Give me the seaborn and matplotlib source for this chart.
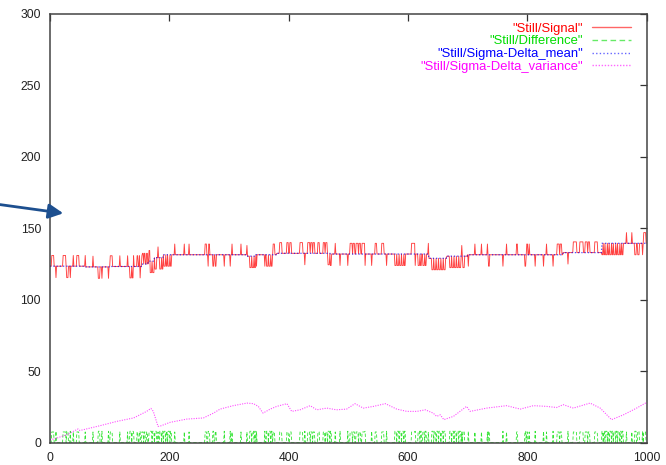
import numpy as np
import pandas as pd
import matplotlib
matplotlib.use("Agg")
import matplotlib.pyplot as plt
from matplotlib.lines import Line2D
import seaborn as sns

n_samples = 1000

# Sigma-delta mean: piecewise-constant levels (start sample, level)
mean_start = [0, 60, 100, 155, 165, 175, 190, 330, 345, 380, 470, 635, 665, 700, 860, 925]
mean_level = [123.5, 123.0, 123.3, 125.0, 127.0, 129.5, 131.5, 130.5, 131.5, 132.5,
              132.0, 129.0, 130.5, 131.5, 133.0, 139.5]

# Signal excursions above the mean (start sample, width in samples)
up_start = [3, 22, 39, 45, 59, 72, 101, 117, 130, 140, 146, 150, 154, 158, 162, 166,
            181, 209, 225, 233, 260, 266, 305, 320, 330, 374, 385, 397, 402, 419, 432,
            437, 441, 449, 458, 462, 478, 503, 508, 513, 518, 523, 545, 556, 606, 634,
            690, 712, 723, 733, 765, 782, 799, 803, 832, 850, 855, 877, 888, 897, 902,
            913, 966, 975, 995]
up_width = [4, 5, 1, 4, 1, 1, 4, 1, 1, 1, 2, 2, 3, 2, 2, 2,
            1, 1, 1, 1, 3, 2, 1, 1, 1, 3, 4, 3, 3, 5, 4,
            3, 3, 3, 3, 3, 1, 4, 3, 4, 3, 5, 3, 4, 6, 1,
            1, 1, 1, 1, 1, 2, 2, 1, 1, 4, 3, 6, 6, 4, 3,
            5, 1, 1, 4]
up_offset = 7.5

# Signal excursions below the mean (start sample, width in samples)
down_start = [10, 28, 34, 81, 87, 98, 134, 138, 151, 168, 172, 176, 184, 188, 191, 195,
              198, 202, 265, 273, 277, 292, 302, 335, 339, 343, 346, 360, 363, 367, 371,
              427, 466, 470, 486, 499, 528, 539, 564, 578, 582, 586, 590, 594, 612, 617,
              621, 625, 629, 640, 644, 648, 652, 656, 660, 670, 674, 678, 682, 686, 692,
              701, 735, 759, 796, 813, 827, 843, 868, 925, 928, 931, 935, 938, 942, 945,
              949, 952, 956, 959, 980, 985, 993]
down_width = [1, 3, 1, 3, 1, 1, 3, 2, 1, 3, 3, 3, 3, 2, 3, 2,
              3, 2, 1, 2, 2, 1, 1, 3, 3, 2, 1, 1, 3, 3, 2,
              1, 3, 2, 1, 1, 1, 1, 1, 3, 3, 3, 3, 2, 1, 3,
              2, 3, 2, 3, 3, 3, 3, 3, 3, 3, 3, 3, 3, 3, 3,
              1, 2, 1, 2, 1, 1, 1, 1, 2, 2, 3, 2, 3, 2, 3,
              2, 3, 2, 2, 3, 3, 1]
down_offset = -8.0

# Sigma-delta variance samples
var_x = [0, 10, 28, 47, 50, 84, 112, 140, 162, 169, 173, 181, 184, 201, 229, 257, 274,
         285, 307, 330, 341, 349, 357, 369, 380, 397, 405, 419, 436, 447, 464, 480, 497,
         511, 525, 542, 562, 581, 598, 615, 629, 642, 648, 654, 660, 676, 698, 704, 732,
         765, 788, 810, 832, 849, 860, 877, 905, 922, 941, 961, 983, 999]
var_y = [2.0, 3.0, 5.6, 9.6, 8.5, 11.9, 14.9, 17.3, 21.9, 24.0, 22.0, 11.4, 11.5, 14.2,
         16.5, 17.3, 20.7, 23.5, 25.9, 27.7, 27.3, 25.4, 20.7, 23.5, 25.4, 27.3, 21.9,
         23.0, 25.9, 23.0, 24.2, 23.0, 23.5, 27.3, 24.2, 25.4, 27.3, 23.5, 21.9, 21.9,
         23.0, 20.7, 18.4, 19.5, 16.1, 18.4, 25.4, 21.9, 24.2, 25.9, 23.5, 25.9, 25.4,
         24.6, 26.6, 24.2, 27.7, 24.2, 16.1, 19.5, 24.2, 28.0]

x_ticks = [0, 200, 400, 600, 800, 1000]
y_ticks = [0, 50, 100, 150, 200, 250, 300]

labels = ['"Still/Signal"', '"Still/Difference"',
          '"Still/Sigma-Delta_mean"', '"Still/Sigma-Delta_variance"']
colors = ["#ff0000", "#00dd00", "#0000ff", "#ff00ff"]
styles = ["-", (0, (4, 2.5)), (0, (1, 1.6)), (0, (1, 1.2))]

# ---- build the series ----
t = np.arange(n_samples)
mean = np.repeat(mean_level, np.diff(mean_start + [n_samples]))
signal = mean.copy()
for s, w in zip(up_start, up_width):
    signal[s:s + w] = mean[s:s + w] + up_offset
for s, w in zip(down_start, down_width):
    signal[s:s + w] = mean[s:s + w] + down_offset
difference = np.abs(signal - mean)

df = pd.DataFrame({"t": t, "signal": signal, "difference": difference, "mean": mean})
df_var = pd.DataFrame({"t": var_x, "variance": var_y})

# ---- style ----
sns.set_style("white")
plt.rcParams["font.family"] = ["Liberation Sans", "DejaVu Sans"]

fig = plt.figure(figsize=(6.66, 4.65), dpi=100)
ax = fig.add_axes([0.0751, 0.048, 0.896, 0.922])

sns.lineplot(data=df, x="t", y="signal", ax=ax, color=colors[0], lw=0.65, alpha=0.75,
             linestyle=styles[0], estimator=None, errorbar=None, legend=False)
sns.lineplot(data=df, x="t", y="difference", ax=ax, color=colors[1], lw=0.6, alpha=0.8,
             linestyle=styles[1], estimator=None, errorbar=None, legend=False)
sns.lineplot(data=df, x="t", y="mean", ax=ax, color=colors[2], lw=0.9, alpha=0.7,
             linestyle=styles[2], estimator=None, errorbar=None, legend=False)
sns.lineplot(data=df_var, x="t", y="variance", ax=ax, color=colors[3], lw=0.8, alpha=0.7,
             linestyle=styles[3], estimator=None, errorbar=None, legend=False)

ax.set_xlim(0, 1000)
ax.set_ylim(0, 300)
ax.set_xticks(x_ticks)
ax.set_yticks(y_ticks)
ax.set_xlabel("")
ax.set_ylabel("")

for side in ["left", "right", "top", "bottom"]:
    ax.spines[side].set_visible(True)
    ax.spines[side].set_color("#444444")
    ax.spines[side].set_linewidth(1.1)
ax.tick_params(direction="in", length=5, width=0.9, top=True, right=True,
               color="#333333", labelcolor="#222222", labelsize=8.7, pad=6.5)

handles = [Line2D([], [], color=c, linestyle=s, lw=1.0, alpha=0.6)
           for c, s in zip(colors, styles)]
leg = ax.legend(handles, labels, loc="upper right", bbox_to_anchor=(0.9737, 0.980),
                frameon=False, markerfirst=False, handlelength=3.0, handletextpad=0.7,
                labelspacing=0.05, borderaxespad=0.0, borderpad=0.0, fontsize=9.4)
for txt, c in zip(leg.get_texts(), colors):
    txt.set_color(c)

# pointer arrow in the left margin
ax.annotate("", xy=(63.3 / 666, 1 - 213.3 / 465), xycoords="figure fraction",
            xytext=(0.0, 1 - 204.6 / 465), textcoords="figure fraction",
            arrowprops=dict(arrowstyle="-|>", color="#1d4f8f", lw=2.0,
                            mutation_scale=22, shrinkA=0, shrinkB=0),
            annotation_clip=False)

fig.savefig("out.png", dpi=100)
